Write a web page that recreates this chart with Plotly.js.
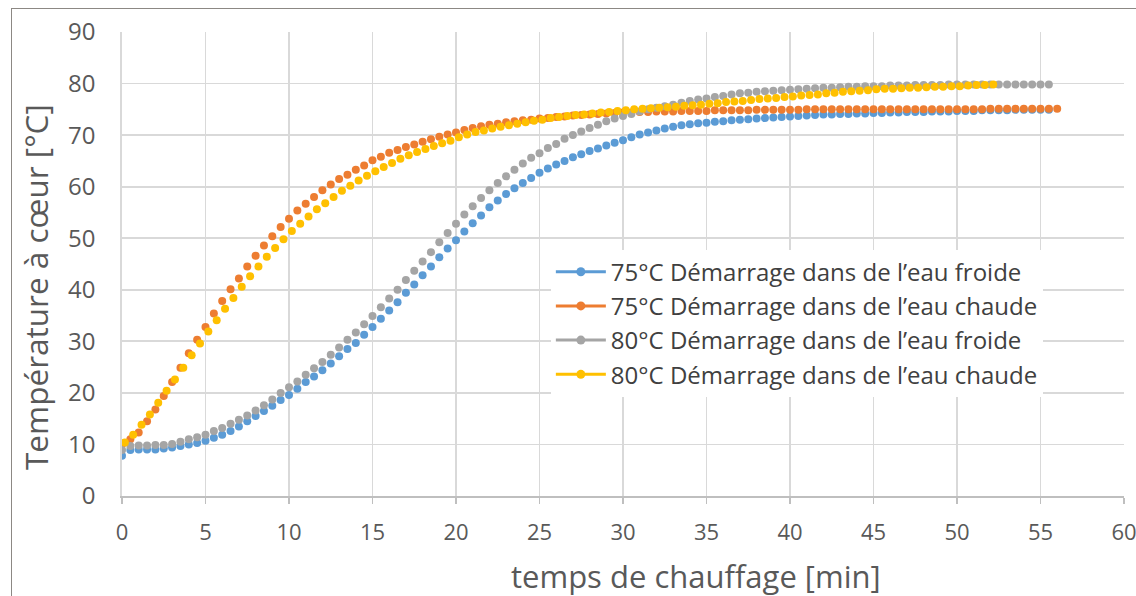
<!DOCTYPE html>
<html>
<head>
<meta charset="utf-8">
<script src="https://cdn.plot.ly/plotly-3.0.1.min.js"></script>
<style>
  html, body { margin: 0; padding: 0; background: #ffffff; overflow: hidden; }
  #chart { position: absolute; left: 0; top: 0; width: 1136px; height: 596px; }
  #frame { position: absolute; left: 11px; top: 8px; width: 1140px; height: 600px;
           border-left: 1.5px solid #8c8884; border-top: 1.5px solid #8c8884; pointer-events: none; }
</style>
</head>
<body>
<div id="chart"></div>
<div id="frame"></div>
<script>
// Series names (legend labels)
const seriesNames = [
  "75°C Démarrage dans de l’eau froide",
  "75°C Démarrage dans de l’eau chaude",
  "80°C Démarrage dans de l’eau froide",
  "80°C Démarrage dans de l’eau chaude"
];

// Sampling: one reading every 0.5 min
const stepMin = 0.5;
const start75Froide = 0;
const start75Chaude = 0;
const start80Froide = 0;
const start80Chaude = 0.17;

// 75°C, cold water start (t = 0 … 55.5 min)
const temp75Froide = [
  7.8, 8.9, 9.0, 9.0, 9.0, 9.2, 9.4, 9.7, 10.0, 10.3,
  10.7, 11.3, 11.9, 12.6, 13.5, 14.5, 15.5, 16.5, 17.5, 18.6,
  19.6, 20.8, 22.1, 23.2, 24.4, 25.7, 27.1, 28.5, 29.7, 31.3,
  32.8, 34.4, 36.0, 37.6, 39.4, 41.0, 42.8, 44.5, 46.3, 48.0,
  49.6, 51.3, 52.9, 54.4, 56.0, 57.3, 58.6, 59.7, 60.7, 61.7,
  62.7, 63.5, 64.3, 65.0, 65.7, 66.3, 66.9, 67.4, 68.0, 68.5,
  69.0, 69.6, 70.1, 70.5, 70.9, 71.3, 71.6, 71.9, 72.1, 72.3,
  72.4, 72.6, 72.7, 72.9, 73.0, 73.1, 73.2, 73.3, 73.4, 73.5,
  73.6, 73.7, 73.8, 73.9, 74.0, 74.0, 74.1, 74.1, 74.2, 74.2,
  74.3, 74.3, 74.4, 74.4, 74.5, 74.5, 74.5, 74.6, 74.6, 74.6,
  74.7, 74.7, 74.7, 74.8, 74.8, 74.8, 74.8, 74.9, 74.9, 74.9,
  74.9, 74.9
];

// 75°C, hot water start (t = 0 … 56 min)
const temp75Chaude = [
  10.0, 11.0, 12.3, 14.5, 16.8, 19.4, 22.1, 24.9, 27.7, 30.3,
  32.8, 35.4, 37.8, 40.1, 42.2, 44.5, 46.6, 48.6, 50.4, 52.2,
  53.8, 55.4, 56.7, 58.0, 59.3, 60.4, 61.5, 62.3, 63.3, 64.1,
  65.1, 65.8, 66.6, 67.1, 67.7, 68.2, 68.7, 69.2, 69.7, 70.1,
  70.5, 71.0, 71.4, 71.7, 72.0, 72.2, 72.5, 72.7, 72.9, 73.0,
  73.2, 73.3, 73.5, 73.6, 73.8, 73.9, 74.0, 74.1, 74.2, 74.3,
  74.4, 74.4, 74.5, 74.5, 74.6, 74.6, 74.6, 74.7, 74.7, 74.7,
  74.7, 74.8, 74.8, 74.8, 74.8, 74.8, 74.9, 74.9, 74.9, 74.9,
  74.9, 74.9, 75.0, 75.0, 75.0, 75.0, 75.0, 75.0, 75.0, 75.0,
  75.0, 75.0, 75.0, 75.0, 75.0, 75.0, 75.0, 75.0, 75.0, 75.0,
  75.0, 75.0, 75.0, 75.0, 75.1, 75.1, 75.1, 75.1, 75.1, 75.1,
  75.1, 75.1, 75.1
];

// 80°C, cold water start (t = 0 … 55.5 min)
const temp80Froide = [
  8.9, 9.7, 9.8, 9.8, 9.9, 9.9, 10.1, 10.5, 11.0, 11.4,
  11.9, 12.6, 13.2, 14.0, 14.8, 15.6, 16.6, 17.6, 18.7, 20.0,
  21.1, 22.2, 23.5, 24.8, 26.0, 27.4, 28.8, 30.3, 31.7, 33.3,
  34.9, 36.6, 38.3, 40.0, 41.9, 43.7, 45.5, 47.3, 49.2, 51.0,
  52.8, 54.6, 56.2, 57.8, 59.3, 60.7, 62.0, 63.3, 64.5, 65.6,
  66.5, 67.5, 68.3, 69.3, 70.0, 70.7, 71.4, 72.0, 72.7, 73.2,
  73.7, 74.1, 74.6, 75.0, 75.3, 75.6, 75.9, 76.3, 76.6, 76.9,
  77.1, 77.4, 77.6, 77.9, 78.1, 78.2, 78.4, 78.5, 78.6, 78.7,
  78.8, 78.9, 79.0, 79.1, 79.2, 79.2, 79.3, 79.4, 79.4, 79.5,
  79.5, 79.5, 79.6, 79.6, 79.6, 79.7, 79.7, 79.7, 79.7, 79.8,
  79.8, 79.8, 79.8, 79.8, 79.8, 79.8, 79.8, 79.8, 79.8, 79.8,
  79.8, 79.8
];

// 80°C, hot water start (t = 0.17 … 52.17 min)
const temp80Chaude = [
  10.4, 11.9, 13.8, 15.8, 18.1, 20.4, 22.6, 24.9, 27.3, 29.6,
  31.9, 34.1, 36.3, 38.4, 40.6, 42.6, 44.5, 46.4, 48.1, 49.8,
  51.4, 52.8, 54.2, 55.6, 56.8, 58.0, 59.2, 60.2, 61.2, 62.1,
  63.0, 63.8, 64.6, 65.4, 66.1, 66.7, 67.3, 67.9, 68.4, 68.9,
  69.6, 70.1, 70.6, 70.9, 71.3, 71.6, 71.9, 72.2, 72.5, 72.8,
  73.0, 73.3, 73.5, 73.7, 73.9, 74.0, 74.2, 74.4, 74.5, 74.7,
  74.8, 75.0, 75.1, 75.2, 75.3, 75.4, 75.5, 75.7, 75.8, 75.9,
  76.1, 76.2, 76.4, 76.5, 76.6, 76.8, 77.0, 77.1, 77.2, 77.4,
  77.5, 77.7, 77.8, 77.9, 78.1, 78.2, 78.4, 78.5, 78.6, 78.7,
  78.9, 79.0, 79.0, 79.1, 79.2, 79.2, 79.3, 79.4, 79.4, 79.5,
  79.5, 79.6, 79.7, 79.7, 79.8
];

const seriesValues = [temp75Froide, temp75Chaude, temp80Froide, temp80Chaude];
const seriesStarts = [start75Froide, start75Chaude, start80Froide, start80Chaude];
const colors = ["#5b9bd5", "#ed7d31", "#a5a5a5", "#ffc000"];

const xTitle = "temps de chauffage [min]";
const yTitle = "Température à cœur [°C]";

const traces = [];
// data traces: markers only, as in the reference
seriesValues.forEach((vals, i) => {
  traces.push({
    type: "scatter",
    mode: "markers",
    y: vals,
    x0: seriesStarts[i],
    dx: stepMin,
    name: seriesNames[i],
    showlegend: false,
    marker: { color: colors[i], size: 8 },
    hoverinfo: "x+y"
  });
});
// legend entries (line + marker symbol as in the reference)
seriesNames.forEach((nm, i) => {
  traces.push({
    type: "scatter",
    mode: "lines+markers",
    x: [null],
    y: [null],
    name: nm,
    legendgroup: "g" + i,
    showlegend: true,
    line: { color: colors[i], width: 3 },
    marker: { color: colors[i], size: 9 }
  });
});

const fontFam = "'Open Sans', 'Noto Sans', sans-serif";

const layout = {
  width: 1136,
  height: 596,
  margin: { l: 122, r: 12, t: 32, b: 100 },
  paper_bgcolor: "#ffffff",
  plot_bgcolor: "#ffffff",
  font: { family: fontFam, color: "#595959" },
  showlegend: true,
  legend: {
    x: 0.428, xanchor: "left",
    y: 0.531, yanchor: "top",
    bgcolor: "#ffffff",
    borderwidth: 0,
    font: { family: fontFam, size: 24, color: "#404040" },
    itemwidth: 50,
    tracegroupgap: 0,
    traceorder: "normal"
  },
  xaxis: {
    range: [0, 60],
    tick0: 0, dtick: 5,
    showgrid: true, gridcolor: "#d9d9d9", gridwidth: 1.8,
    zeroline: false,
    showline: true, linecolor: "#bfbfbf", linewidth: 1.5,
    ticks: "outside", ticklen: 6, tickcolor: "#bfbfbf", tickwidth: 1.5,
    tickfont: { family: fontFam, size: 22, color: "#595959" },
    ticklabelstandoff: 10,
    ticklabeloverflow: "allow",
    automargin: false
  },
  yaxis: {
    range: [0, 90],
    tick0: 0, dtick: 10,
    showgrid: true, gridcolor: "#d9d9d9", gridwidth: 1.8,
    zeroline: false,
    showline: true, linecolor: "#d9d9d9", linewidth: 1.8,
    ticks: "",
    tickfont: { family: fontFam, size: 24, color: "#595959" },
    ticklabelstandoff: 20,
    automargin: false
  },
  annotations: [
    {
      text: xTitle, xref: "paper", yref: "paper",
      x: 0.573, y: -0.172, xanchor: "center", yanchor: "middle",
      showarrow: false,
      font: { family: fontFam, size: 31, color: "#595959" }
    },
    {
      text: yTitle, xref: "paper", yref: "paper",
      x: -0.087, y: 0.45, xanchor: "center", yanchor: "middle",
      textangle: -90, showarrow: false,
      font: { family: fontFam, size: 31.5, color: "#595959" }
    }
  ]
};

Plotly.newPlot("chart", traces, layout, { displayModeBar: false, staticPlot: true });
</script>
</body>
</html>
